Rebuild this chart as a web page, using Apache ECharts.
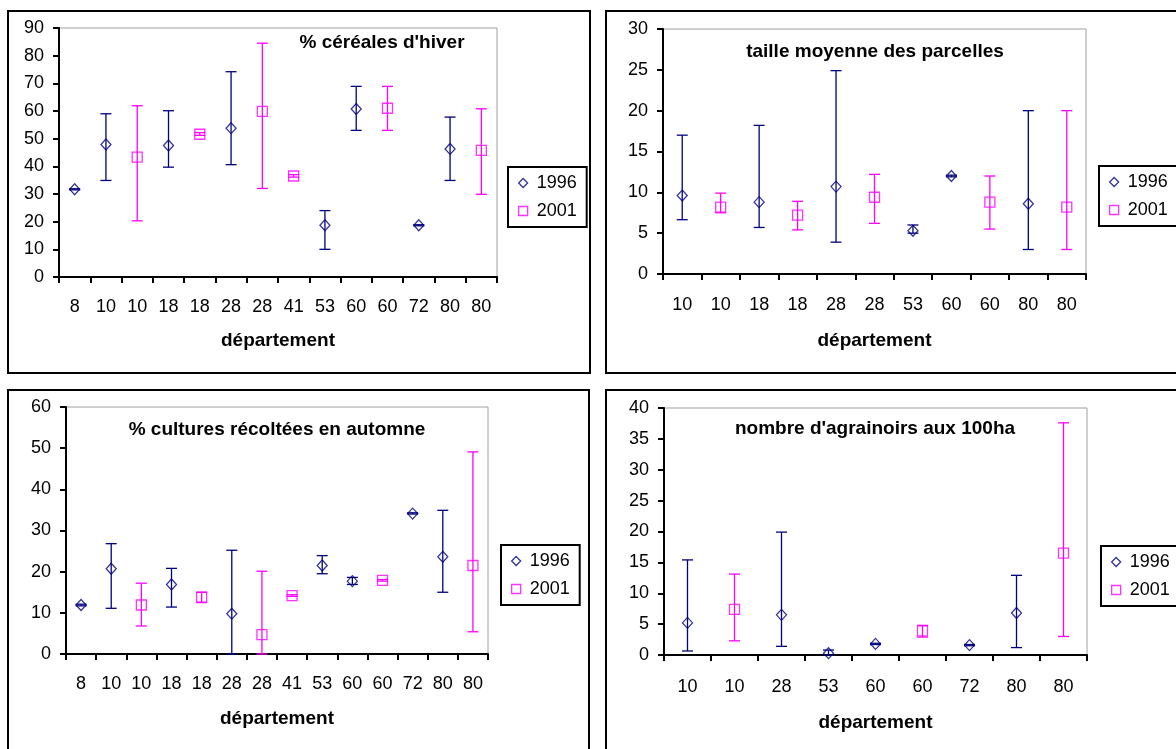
<!DOCTYPE html>
<html>
<head>
<meta charset="utf-8">
<script src="https://cdn.jsdelivr.net/npm/echarts@6/dist/echarts.min.js"></script>
<style>
html,body{margin:0;padding:0;background:#fff;overflow:hidden;}
#c{width:1176px;height:749px;}
</style>
</head>
<body>
<div id="c"></div>
<script>
// ---------- DATA ----------
const years = ['1996', '2001'];
const xName = 'département';

// Panel 1 : % céréales d'hiver
const p1Title = "% céréales d'hiver";
const p1Cats = ['8','10','10','18','18','28','28','41','53','60','60','72','80','80'];
const p1v96  = [31.7, 47.9, null, 47.5, null, 53.8, null, null, 18.7, 60.7, null, 18.7, 46.3, null];
const p1lo96 = [31.5, 34.9, null, 39.7, null, 40.6, null, null, 10.0, 53.0, null, 18.5, 34.9, null];
const p1hi96 = [31.9, 59.0, null, 60.1, null, 74.2, null, null, 24.0, 68.9, null, 18.9, 57.8, null];
const p1v01  = [null, null, 43.3, null, 51.6, null, 59.9, 36.5, null, null, 61.0, null, null, 45.8];
const p1lo01 = [null, null, 20.3, null, 51.2, null, 32.0, 36.1, null, null, 53.0, null, null, 29.9];
const p1hi01 = [null, null, 61.9, null, 52.2, null, 84.5, 37.0, null, null, 68.9, null, null, 60.8];
const p1Y = {max: 90, interval: 10};

// Panel 2 : taille moyenne des parcelles
const p2Title = 'taille moyenne des parcelles';
const p2Cats = ['10','10','18','18','28','28','53','60','60','80','80'];
const p2v96  = [9.6, null, 8.8, null, 10.7, null, 5.3, 12.0, null, 8.6, null];
const p2lo96 = [6.65, null, 5.7, null, 3.9, null, 5.0, 11.9, null, 3.0, null];
const p2hi96 = [17.0, null, 18.2, null, 24.9, null, 6.0, 12.1, null, 20.0, null];
const p2v01  = [null, 8.2, null, 7.2, null, 9.4, null, null, 8.8, null, 8.2];
const p2lo01 = [null, 7.5, null, 5.4, null, 6.2, null, null, 5.5, null, 3.0];
const p2hi01 = [null, 9.9, null, 8.9, null, 12.2, null, null, 12.0, null, 20.0];
const p2Y = {max: 30, interval: 5};

// Panel 3 : % cultures récoltées en automne
const p3Title = '% cultures récoltées en automne';
const p3Cats = ['8','10','10','18','18','28','28','41','53','60','60','72','80','80'];
const p3v96  = [11.9, 20.7, null, 16.9, null, 9.8, null, null, 21.5, 17.7, null, 34.1, 23.6, null];
const p3lo96 = [11.7, 11.1, null, 11.4, null, 0.0, null, null, 19.5, 16.9, null, 34.0, 15.0, null];
const p3hi96 = [12.1, 26.8, null, 20.8, null, 25.2, null, null, 23.9, 18.6, null, 34.3, 34.9, null];
const p3v01  = [null, null, 11.9, null, 13.8, null, 4.7, 14.2, null, null, 17.9, null, null, 21.5];
const p3lo01 = [null, null, 6.8, null, 12.5, null, 0.0, 14.0, null, null, 17.7, null, null, 5.4];
const p3hi01 = [null, null, 17.2, null, 15.0, null, 20.1, 14.4, null, null, 18.1, null, null, 49.1];
const p3Y = {max: 60, interval: 10};

// Panel 4 : nombre d'agrainoirs aux 100ha
const p4Title = "nombre d'agrainoirs aux 100ha";
const p4Cats = ['10','10','28','53','60','60','72','80','80'];
const p4v96  = [5.2, null, 6.5, 0.3, 1.8, null, 1.6, 6.8, null];
const p4lo96 = [0.65, null, 1.4, 0.0, 1.7, null, 1.5, 1.2, null];
const p4hi96 = [15.4, null, 19.9, 0.8, 1.9, null, 1.7, 12.9, null];
const p4v01  = [null, 7.4, null, null, null, 3.9, null, null, 16.5];
const p4lo01 = [null, 2.3, null, null, null, 2.9, null, null, 3.0];
const p4hi01 = [null, 13.1, null, null, null, 4.8, null, null, 37.6];
const p4Y = {max: 40, interval: 5};

// ---------- LAYOUT / STYLE ----------
const NAVY = '#000080', MAG = '#ff00ff';
const FONT = '"Liberation Sans", Arial, sans-serif';

const panels = [
  {title: p1Title, cats: p1Cats, v96: p1v96, lo96: p1lo96, hi96: p1hi96, v01: p1v01, lo01: p1lo01, hi01: p1hi01, y: p1Y,
   grid: {left: 59, top: 28, width: 438, height: 249}, lblMargin: 21, nameGap: 54,
   titlePos: [382, 43], legend: {left: 508, top: 167}, box: [8, 11, 582, 362]},
  {title: p2Title, cats: p2Cats, v96: p2v96, lo96: p2lo96, hi96: p2hi96, v01: p2v01, lo01: p2lo01, hi01: p2hi01, y: p2Y,
   grid: {left: 663, top: 29, width: 423, height: 245}, lblMargin: 22, nameGap: 57,
   titlePos: [875, 52], legend: {left: 1099, top: 166}, box: [606, 11, 620, 362]},
  {title: p3Title, cats: p3Cats, v96: p3v96, lo96: p3lo96, hi96: p3hi96, v01: p3v01, lo01: p3lo01, hi01: p3hi01, y: p3Y,
   grid: {left: 66, top: 407, width: 422, height: 247}, lblMargin: 21, nameGap: 55,
   titlePos: [277, 430], legend: {left: 501, top: 545}, box: [8, 390, 581, 420]},
  {title: p4Title, cats: p4Cats, v96: p4v96, lo96: p4lo96, hi96: p4hi96, v01: p4v01, lo01: p4lo01, hi01: p4hi01, y: p4Y,
   grid: {left: 664, top: 408, width: 423, height: 247}, lblMargin: 23, nameGap: 58,
   titlePos: [875, 429], legend: {left: 1101, top: 546}, box: [606, 390, 620, 420]}
];

function pts(vals) {
  const out = [];
  vals.forEach((v, i) => { if (v !== null) out.push([i, v]); });
  return out;
}
function bars(lo, hi) {
  const out = [];
  lo.forEach((v, i) => { if (v !== null) out.push([i, v, hi[i]]); });
  return out;
}
function errRender(color) {
  return function (params, api) {
    const a = api.coord([api.value(0), api.value(1)]);
    const b = api.coord([api.value(0), api.value(2)]);
    const w = 5.5;
    const st = {stroke: color, lineWidth: 1.3};
    return {type: 'group', children: [
      {type: 'line', shape: {x1: a[0], y1: a[1], x2: b[0], y2: b[1]}, style: st},
      {type: 'line', shape: {x1: a[0] - w, y1: a[1], x2: a[0] + w, y2: a[1]}, style: st},
      {type: 'line', shape: {x1: b[0] - w, y1: b[1], x2: b[0] + w, y2: b[1]}, style: st}
    ]};
  };
}

const option = {
  animation: false,
  backgroundColor: '#fff',
  textStyle: {fontFamily: FONT},
  grid: [], xAxis: [], yAxis: [], series: [], legend: [], graphic: []
};

panels.forEach((p, k) => {
  option.grid.push(Object.assign({show: true, borderColor: '#a0a0a0', borderWidth: 1, backgroundColor: 'transparent'}, p.grid));
  option.xAxis.push({
    type: 'category', gridIndex: k, data: p.cats, boundaryGap: true,
    name: xName, nameLocation: 'middle', nameGap: p.nameGap,
    nameTextStyle: {fontFamily: FONT, fontWeight: 'bold', fontSize: 19, color: '#000'},
    axisLine: {show: true, lineStyle: {color: '#000', width: 2}},
    axisTick: {show: true, interval: 0, length: 6, inside: false, lineStyle: {color: '#000', width: 2}},
    axisLabel: {interval: 0, margin: p.lblMargin, fontFamily: FONT, fontSize: 18, color: '#000'},
    splitLine: {show: false}
  });
  option.yAxis.push({
    type: 'value', gridIndex: k, min: 0, max: p.y.max, interval: p.y.interval,
    axisLine: {show: true, lineStyle: {color: '#000', width: 2}},
    axisTick: {show: true, length: 6, lineStyle: {color: '#000', width: 2}},
    axisLabel: {margin: 15, fontFamily: FONT, fontSize: 18, color: '#000'},
    splitLine: {show: false}
  });
  option.series.push(
    {type: 'custom', name: 'err1996', xAxisIndex: k, yAxisIndex: k, renderItem: errRender(NAVY),
     data: bars(p.lo96, p.hi96), encode: {x: 0, y: [1, 2]}, silent: true, z: 4},
    {type: 'custom', name: 'err2001', xAxisIndex: k, yAxisIndex: k, renderItem: errRender(MAG),
     data: bars(p.lo01, p.hi01), encode: {x: 0, y: [1, 2]}, silent: true, z: 4},
    {type: 'scatter', name: years[0], xAxisIndex: k, yAxisIndex: k, data: pts(p.v96),
     symbol: 'diamond', symbolSize: [10, 11], silent: true, z: 3,
     itemStyle: {color: 'rgba(255,255,255,0)', borderColor: NAVY, borderWidth: 1.3}},
    {type: 'scatter', name: years[1], xAxisIndex: k, yAxisIndex: k, data: pts(p.v01),
     symbol: 'rect', symbolSize: 10, silent: true, z: 3,
     itemStyle: {color: 'rgba(255,255,255,0)', borderColor: MAG, borderWidth: 1.3}}
  );
  option.legend.push({
    orient: 'vertical', left: p.legend.left, top: p.legend.top,
    selectedMode: false, borderColor: '#000', borderWidth: 2,
    padding: [6, 10, 6, 10], itemGap: 8, itemWidth: 9, itemHeight: 9,
    textStyle: {fontFamily: FONT, fontSize: 18, color: '#000', lineHeight: 20, padding: [0, 0, 0, 4]},
    data: [
      {name: years[0], icon: 'diamond', itemStyle: {color: 'rgba(255,255,255,0)', borderColor: NAVY, borderWidth: 1.3}},
      {name: years[1], icon: 'rect', itemStyle: {color: 'rgba(255,255,255,0)', borderColor: MAG, borderWidth: 1.3}}
    ]
  });
  option.graphic.push(
    {type: 'rect', silent: true, z: 0, shape: {x: p.box[0], y: p.box[1], width: p.box[2], height: p.box[3]},
     style: {fill: 'none', stroke: '#000', lineWidth: 2}},
    {type: 'text', silent: true, z: 10, x: p.titlePos[0], y: p.titlePos[1],
     style: {text: p.title, align: 'center', verticalAlign: 'middle', fontFamily: FONT, fontWeight: 'bold', fontSize: 19, fill: '#000'}}
  );
});

const chart = echarts.init(document.getElementById('c'), null, {renderer: 'canvas'});
chart.setOption(option);
</script>
</body>
</html>
